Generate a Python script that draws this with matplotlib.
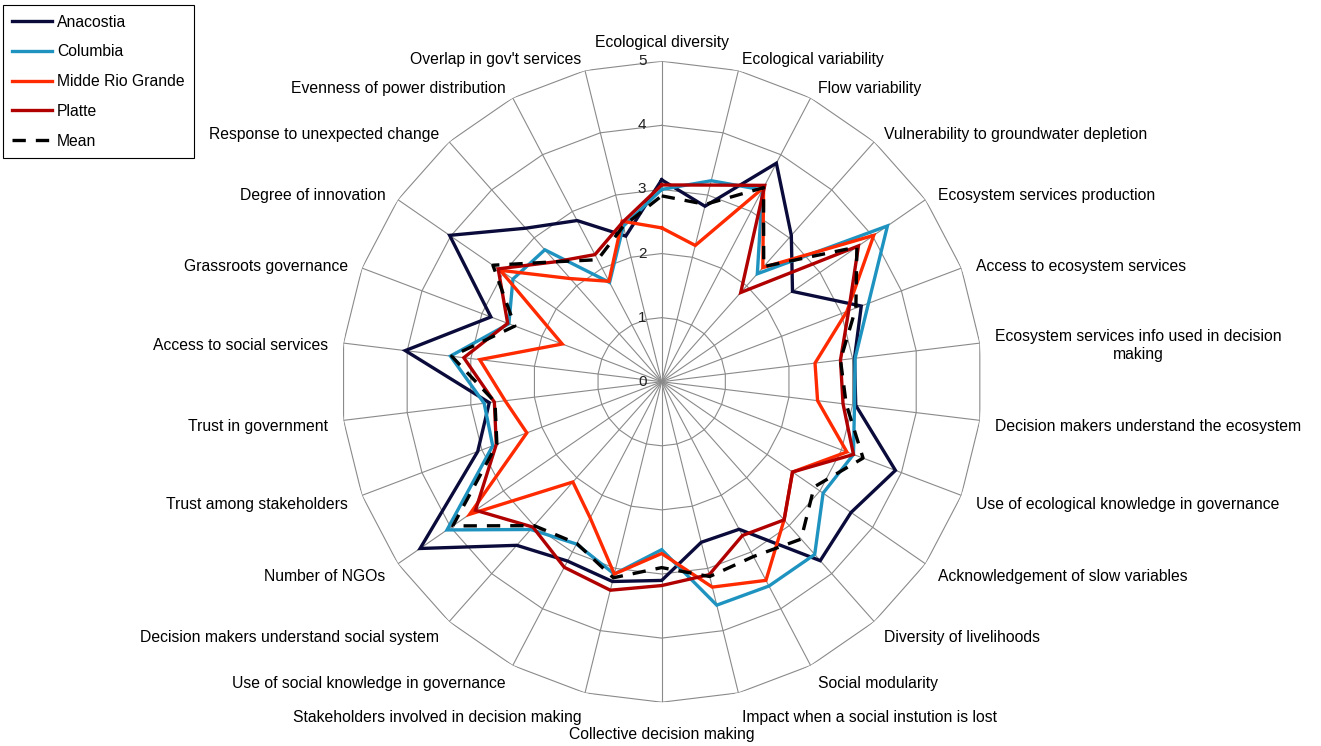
import numpy as np
import matplotlib
matplotlib.use('Agg')
import matplotlib.pyplot as plt

plt.rcParams['font.family'] = ['Liberation Sans', 'DejaVu Sans']

# Categories, clockwise from the top
categories = [
    'Ecological diversity', 'Ecological variability', 'Flow variability',
    'Vulnerability to groundwater depletion', 'Ecosystem services production',
    'Access to ecosystem services',
    'Ecosystem services info used in decision\nmaking',
    'Decision makers understand the ecosystem',
    'Use of ecological knowledge in governance',
    'Acknowledgement of slow variables', 'Diversity of livelihoods',
    'Social modularity', 'Impact when a social instution is lost',
    'Collective decision making', 'Stakeholders involved in decision making',
    'Use of social knowledge in governance',
    'Decision makers understand social system', 'Number of NGOs',
    'Trust among stakeholders', 'Trust in government',
    'Access to social services', 'Grassroots governance',
    'Degree of innovation', 'Response to unexpected change',
    'Evenness of power distribution', "Overlap in gov't services",
]

# Scores (0-5)
anacostia = [3.15, 2.82, 3.85, 3.05, 2.48, 3.33, 3.03, 3.05, 3.90, 3.59, 3.73, 2.60, 2.58,
             3.10, 3.21, 3.16, 3.41, 4.58, 3.07, 2.71, 4.03, 2.85, 4.02, 3.20, 2.84, 2.34]
columbia = [3.00, 3.23, 3.38, 2.25, 4.28, 3.45, 3.04, 3.03, 3.20, 3.06, 3.60, 3.60, 3.59,
            2.62, 3.09, 2.86, 3.08, 4.07, 2.82, 2.79, 3.32, 2.55, 2.82, 2.75, 1.75, 2.50]
middle_rio_grande = [2.40, 2.19, 3.42, 2.38, 4.02, 3.09, 2.41, 2.45, 3.09, 2.48, 2.88, 3.50, 3.30,
                     2.68, 3.09, 2.40, 2.09, 3.64, 2.25, 2.46, 2.86, 1.66, 3.06, 2.15, 1.77, 2.58]
platte = [3.07, 3.16, 3.46, 1.86, 3.73, 3.12, 2.81, 2.85, 3.20, 2.48, 2.88, 2.71, 3.10,
          3.18, 3.35, 3.27, 3.03, 3.53, 2.76, 2.63, 3.11, 2.57, 3.10, 2.50, 2.24, 2.56]
mean = [2.90, 2.85, 3.42, 2.40, 3.70, 3.24, 2.81, 2.90, 3.36, 2.89, 3.28, 3.08, 3.13,
        2.90, 3.15, 2.85, 3.00, 3.96, 2.75, 2.62, 3.30, 2.45, 3.20, 2.50, 2.15, 2.50]

n = len(categories)
angles = np.arange(n) * 2 * np.pi / n
closed = np.append(angles, angles[0])

fig = plt.figure(figsize=(13.21, 7.46), dpi=100)
ax = fig.add_axes([0.2583, 0.0587, 0.4852, 0.8592], projection='polar')
ax.set_theta_offset(np.pi / 2)
ax.set_theta_direction(-1)
ax.set_ylim(0, 5)
ax.set_xticks([])
ax.set_yticks([])
ax.grid(False)
ax.spines['polar'].set_visible(False)

# polygon grid
grid_col = '#8a8a8a'
for r in range(1, 6):
    ax.plot(closed, [r] * (n + 1), color=grid_col, lw=0.8, zorder=1)
for a in angles:
    ax.plot([a, a], [0, 5], color=grid_col, lw=0.8, zorder=1)

# radial tick labels
for r in range(0, 6):
    ax.annotate(str(r), xy=(0, r), xytext=(-11, 0), textcoords='offset points',
                ha='right', va='center', fontsize=11, color='#222222', zorder=2)

# category labels
for a, lab in zip(angles, categories):
    s, c = np.sin(a), np.cos(a)
    ha = 'left' if s > 0.05 else ('right' if s < -0.05 else 'center')
    va = 'bottom' if c > 0.99 else ('top' if c < -0.99 else 'center')
    dy = 11 * c - 3 - (4 if c < -0.9 else 0)
    ax.annotate(lab, xy=(a, 5), xytext=(11 * s, dy), textcoords='offset points',
                ha=ha, va=va, fontsize=11.3, multialignment='center',
                annotation_clip=False)

series = [
    ('Anacostia', anacostia, '#0b0b3b', '-'),
    ('Columbia', columbia, '#1f93c0', '-'),
    ('Midde Rio Grande', middle_rio_grande, '#ff2a00', '-'),
    ('Platte', platte, '#b00000', '-'),
    ('Mean', mean, 'black', '--'),
]
handles = []
for name, vals, col, ls in series:
    v = np.append(vals, vals[0])
    h, = ax.plot(closed, v, color=col, lw=2.4, ls=ls, label=name, zorder=3,
                 solid_joinstyle='miter')
    if ls == '--':
        h.set_dashes((4, 3))
    handles.append(h)

leg = fig.legend(handles=handles, loc='upper left', bbox_to_anchor=(0.002, 0.993),
                 fontsize=11.3, frameon=True, fancybox=False, framealpha=1,
                 edgecolor='black', borderpad=0.6, labelspacing=0.94,
                 handlelength=2.55, handletextpad=0.3, borderaxespad=0)
leg.get_frame().set_linewidth(0.8)

fig.savefig('out.png', dpi=100)
